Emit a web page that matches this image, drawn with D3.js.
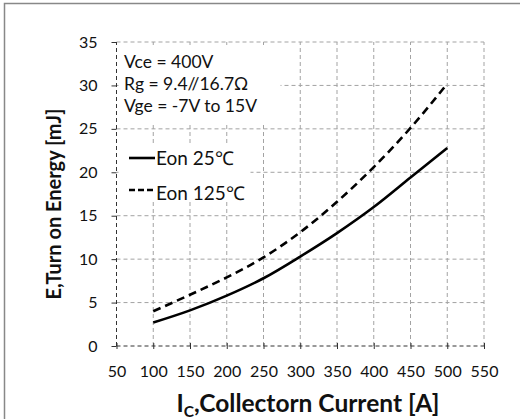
<!DOCTYPE html>
<html><head><meta charset="utf-8">
<script src="https://cdn.jsdelivr.net/npm/d3@7"></script>
<style>body{margin:0;background:#fff}svg{display:block}text{font-family:Lato,"Open Sans",sans-serif;fill:#111}</style>
</head><body><svg id="c" width="520" height="419"></svg>
<script>
const currents = [100,150,200,250,300,350,400,450,500];
const eon25 = [2.7,4.1,5.8,7.8,10.3,13.0,16.0,19.4,22.8];
const eon125 = [4.0,5.9,7.9,10.2,13.1,16.6,20.6,25.1,30.2];
const xTicks = [50,100,150,200,250,300,350,400,450,500,550];
const yTicks = [0,5,10,15,20,25,30,35];
const notes = ["Vce = 400V","Rg = 9.4//16.7Ω","Vge = -7V to 15V"];
const legendLabels = ["Eon 25℃","Eon 125℃"];

const svg = d3.select("#c");
// outer border
svg.append("path").attr("d","M4.5,419 V3.5 H520").attr("fill","none").attr("stroke","#888").attr("stroke-width",1.5);

const x = d3.scaleLinear().domain([50,550]).range([116.5,484]);
const y = d3.scaleLinear().domain([0,35]).range([346,42]);
const g = svg.append("g");
const gridC = "#a3a3a3", dash = "4,3";

// gridlines
g.selectAll(".hg").data(yTicks.filter(d=>d>0)).join("line")
  .attr("x1",x(50)).attr("x2",x(550)).attr("y1",d=>y(d)).attr("y2",d=>y(d))
  .attr("stroke",gridC).attr("stroke-dasharray",dash);
g.selectAll(".vg").data(xTicks.filter(d=>d>50)).join("line")
  .attr("x1",d=>x(d)).attr("x2",d=>x(d)).attr("y1",y(0)).attr("y2",y(35))
  .attr("stroke",gridC).attr("stroke-dasharray",dash);

// white boxes behind annotation and legend
g.append("rect").attr("x",x(50)+2).attr("y",y(35)+3).attr("width",162).attr("height",77).attr("fill","#fff");
g.append("rect").attr("x",x(50)+2).attr("y",145).attr("width",132).attr("height",57).attr("fill","#fff");

// axes (dark dashed)
const axC = "#333";
g.append("line").attr("x1",x(50)).attr("x2",x(50)).attr("y1",y(0)).attr("y2",y(35)).attr("stroke",axC).attr("stroke-dasharray",dash);
g.append("line").attr("x1",x(50)).attr("x2",x(550)).attr("y1",y(0)).attr("y2",y(0)).attr("stroke",axC).attr("stroke-dasharray",dash);

const yAxis = d3.axisLeft(y).tickValues(yTicks).tickSize(5).tickPadding(14).tickFormat(d3.format("d"));
const ya = svg.append("g").attr("transform",`translate(${x(50)},0)`).call(yAxis);
ya.select(".domain").remove();
ya.selectAll("line").attr("stroke",axC);
ya.selectAll("text").style("font-size","16px").attr("fill","#111");

const xAxis = d3.axisBottom(x).tickValues(xTicks).tickSize(3).tickPadding(17);
const xa = svg.append("g").attr("transform",`translate(0,${y(0)})`).call(xAxis);
xa.select(".domain").remove();
xa.selectAll("line").attr("stroke",axC).attr("y1",-3);
xa.selectAll("text").style("font-size","16px").attr("fill","#111");

// series
const line = d3.line().x((d,i)=>x(currents[i])).y(d=>y(d)).curve(d3.curveMonotoneX);
svg.append("path").datum(eon25).attr("d",line).attr("fill","none").attr("stroke","#000").attr("stroke-width",2.6);
svg.append("path").datum(eon125).attr("d",line).attr("fill","none").attr("stroke","#000").attr("stroke-width",2.6).attr("stroke-dasharray","8,5");

// annotation
svg.selectAll(".note").data(notes).join("text")
  .attr("x",124).attr("y",(d,i)=>68+i*22).style("font-size","17.5px").text(d=>d);

// legend
const lg = svg.append("g");
[0,1].forEach(i=>{
  const ly = i===0 ? 158 : 190;
  lg.append("line").attr("x1",129).attr("x2",155).attr("y1",ly).attr("y2",ly)
    .attr("stroke","#000").attr("stroke-width",2.6).attr("stroke-dasharray",i===0?null:"6,3");
  lg.append("text").attr("x",156).attr("y",ly+(i===0?6.5:9.5)).style("font-size","19px").text(legendLabels[i]);
});

// axis titles
svg.append("text").attr("transform","translate(61,204) rotate(-90)").attr("text-anchor","middle")
  .style("font-size","20px").style("font-weight","bold").text("E,Turn on Energy [mJ]");
const xt = svg.append("text").attr("x",308).attr("y",412).attr("text-anchor","middle")
  .style("font-size","24.5px").style("font-weight","bold");
xt.append("tspan").text("I");
xt.append("tspan").attr("dy",5).style("font-size","15.5px").text("C");
xt.append("tspan").attr("dy",-5).text(",Collectorn Current [A]");
</script></body></html>
